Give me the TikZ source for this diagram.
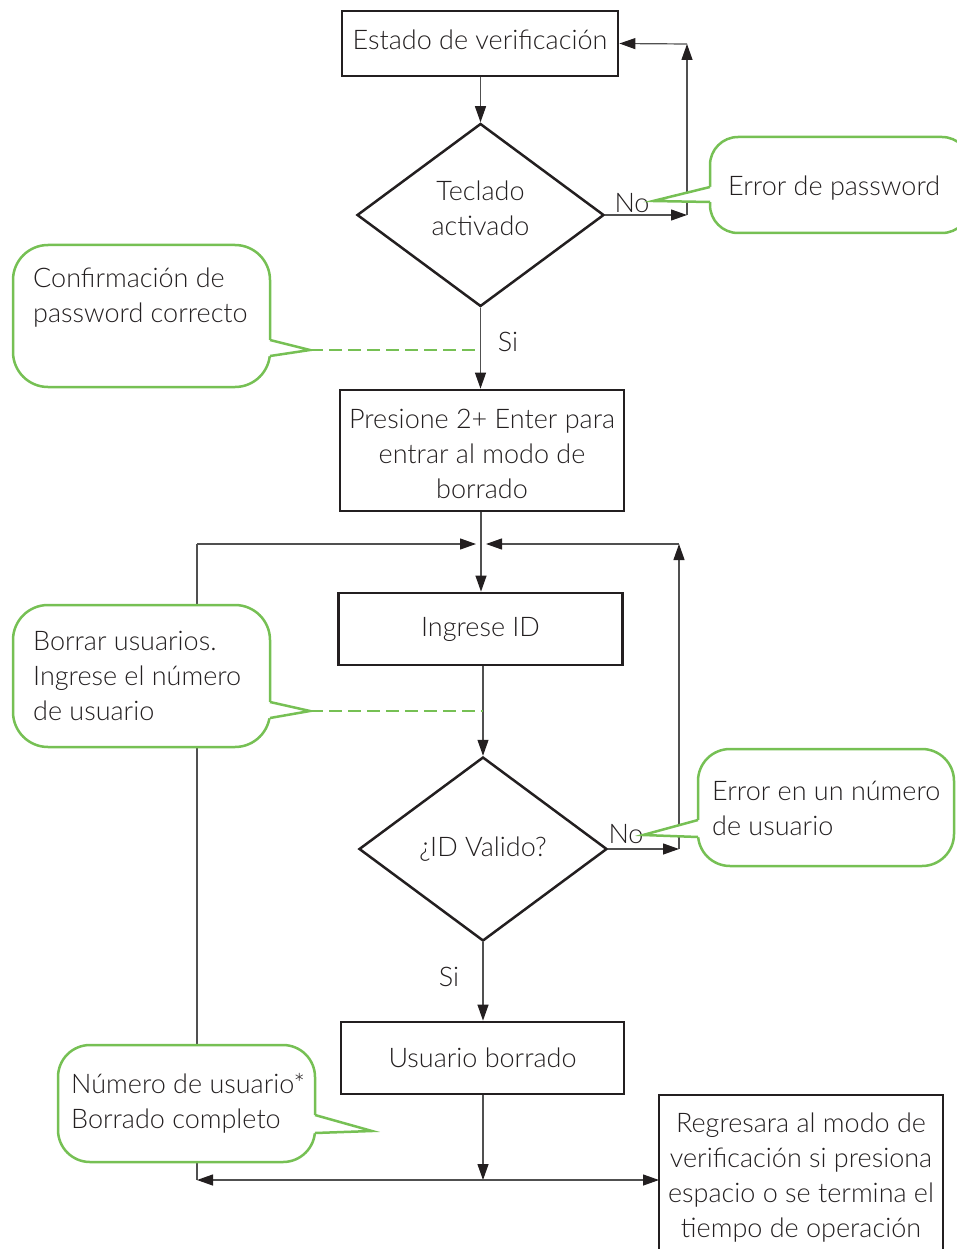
\documentclass[tikz,border=0pt]{standalone}
\usepackage{fontspec}
\IfFontExistsTF{Lato Light}{\setmainfont{Lato Light}}{\setmainfont{Lato}}
\usetikzlibrary{shapes.geometric,arrows.meta}
\definecolor{cgreen}{RGB}{118,192,84}
\definecolor{ctext}{RGB}{35,31,32}
\definecolor{cline}{RGB}{80,80,80}
\tikzset{
 box/.style={draw=ctext, line width=2.8pt, fill=white, align=center, inner sep=0pt},
 dia/.style={diamond, draw=ctext, line width=2.5pt, align=center, inner sep=0pt, aspect=1.35},
 arr/.style={draw=cline, line width=1.2pt, -{Triangle[length=16pt,width=11pt,color=ctext]}},
 ln/.style={draw=cline, line width=1.2pt},
 call/.style={draw=cgreen, line width=2.5pt, fill=white},
 callp/.style={draw=cgreen, line width=2.5pt, line join=miter},
 dsh/.style={draw=cgreen, line width=2.8pt, dash pattern=on 13pt off 6pt},
 lbl/.style={inner sep=0pt},
 btxt/.style={align=center, inner sep=0pt},
 ctxt/.style={align=left, inner sep=0pt, anchor=west}
}
\begin{document}
\begin{tikzpicture}[x=1pt,y=-1pt,font=\fontsize{27}{35}\selectfont,text=ctext]
\useasboundingbox (0,0) rectangle (956,1249);
% boxes
\node[box, minimum width=276pt, minimum height=65pt] (b1) at (480,43.5) {};
\node[btxt] (b1t) at (480,40) {Estado de verificación};
\node[dia, minimum width=247pt, minimum height=183pt] (d1) at (480.5,215) {};
\node[btxt] (d1t) at (480.5,208) {Teclado\\activado};
\node[box, minimum width=284pt, minimum height=121pt] (b2) at (482,450.5) {};
\node[btxt] (b2t) at (482,454) {Presione 2+ Enter para\\entrar al modo de\\borrado};
\node[box, minimum width=284pt, minimum height=72pt] (b3) at (480.5,629) {Ingrese ID};
\node[dia, minimum width=248pt, minimum height=184pt] (d2) at (483,849) {¿ID Valido?};
\node[box, minimum width=283pt, minimum height=72pt] (b4) at (482.5,1058) {Usuario borrado};
\node[btxt] (b5) at (801,1178) {Regresara al modo de\\verificación si presiona\\espacio o se termina el\\tiempo de operación};
\draw[ctext, line width=2.8pt] (659,1255) -- (659,1095) -- (943,1095) -- (943,1255);
% coordinates
\coordinate (n1) at (687,215);
\coordinate (n2) at (687,44);
\coordinate (j) at (481,544);
\coordinate (jl) at (476,544);
\coordinate (jr) at (486,544);
\coordinate (lt) at (197,544);
\coordinate (lb) at (197,1180);
\coordinate (r1) at (679,849);
\coordinate (r2) at (679,544);
\coordinate (m) at (483,1180);
\coordinate (b5w) at (659,1180);
% connectors
\draw[arr] (b1.south -| d1.north) -- (d1.north);
\draw[arr] (d1.east) -- (n1);
\draw[arr] (n1) -- (n2);
\draw[arr] (n2) -- (b1.east);
\draw[arr] (d1.south) -- (d1.south |- b2.north);
\draw[arr] (b2.south -| j) -- (b3.north -| j);
\draw[ln] (lb) -- (lt);
\draw[arr] (lt) -- (jl);
\draw[arr] (d2.east) -- (r1);
\draw[arr] (r1) -- (r2);
\draw[arr] (r2) -- (jr);
\draw[arr] (b3.south -| d2.north) -- (d2.north);
\draw[arr] (d2.south) -- (b4.north -| d2.south);
\draw[arr] (b4.south -| m) -- (m);
\draw[arr] (m) -- (lb);
\draw[arr] (m) -- (b5w);
% labels
\node[lbl] (no1) at (632,203) {No};
\node[lbl] (si1) at (508,342) {Si};
\node[lbl] (no2) at (626,834) {No};
\node[lbl] (si2) at (449,977) {Si};
% callout 1
\draw[call, rounded corners=28pt] (710,137) rectangle (970,233);
\fill[white] (714,187) -- (709,187) -- (653,201) -- (709,202) -- (714,202) -- cycle;
\draw[callp] (710,187) -- (653,201) -- (710,202);
\node[ctxt] (c1) at (728,188) {Error de password};
% callout 2
\draw[call, rounded corners=35pt] (13,245) rectangle (270,387);
\fill[white] (266,340) -- (271,340) -- (310,350) -- (271,356) -- (266,356) -- cycle;
\draw[callp] (270,340) -- (310,350) -- (270,356);
\node[ctxt] (c2) at (33,297.5) {Confirmación de\\password correcto};
\coordinate (t2) at (310,350);
\draw[dsh] (t2) -- (t2 -| d1.south);
% callout 3
\draw[call, rounded corners=35pt] (13,605) rectangle (270,747);
\fill[white] (266,702) -- (271,702) -- (310,711) -- (271,718) -- (266,718) -- cycle;
\draw[callp] (270,702) -- (310,711) -- (270,718);
\node[ctxt] (c3) at (33,676) {Borrar usuarios.\\Ingrese el número\\de usuario};
\coordinate (t3) at (310,711);
\draw[dsh] (t3) -- (t3 -| d2.north);
% callout 4
\draw[call, rounded corners=32pt] (698,749) rectangle (954,866);
\fill[white] (702,820) -- (697,820) -- (643,835) -- (697,837) -- (702,837) -- cycle;
\draw[callp] (698,820) -- (643,835) -- (698,837);
\node[ctxt] (c4) at (712,808.5) {Error en un número\\de usuario};
% callout 5
\draw[call, rounded corners=32pt] (58,1045) rectangle (315,1162);
\fill[white] (311,1115) -- (316,1115) -- (372,1131) -- (316,1133) -- (311,1133) -- cycle;
\draw[callp] (315,1115) -- (372,1131) -- (315,1133);
\node[ctxt] (c5) at (71,1103.5) {Número de usuario*\\Borrado completo};
\end{tikzpicture}
\end{document}
